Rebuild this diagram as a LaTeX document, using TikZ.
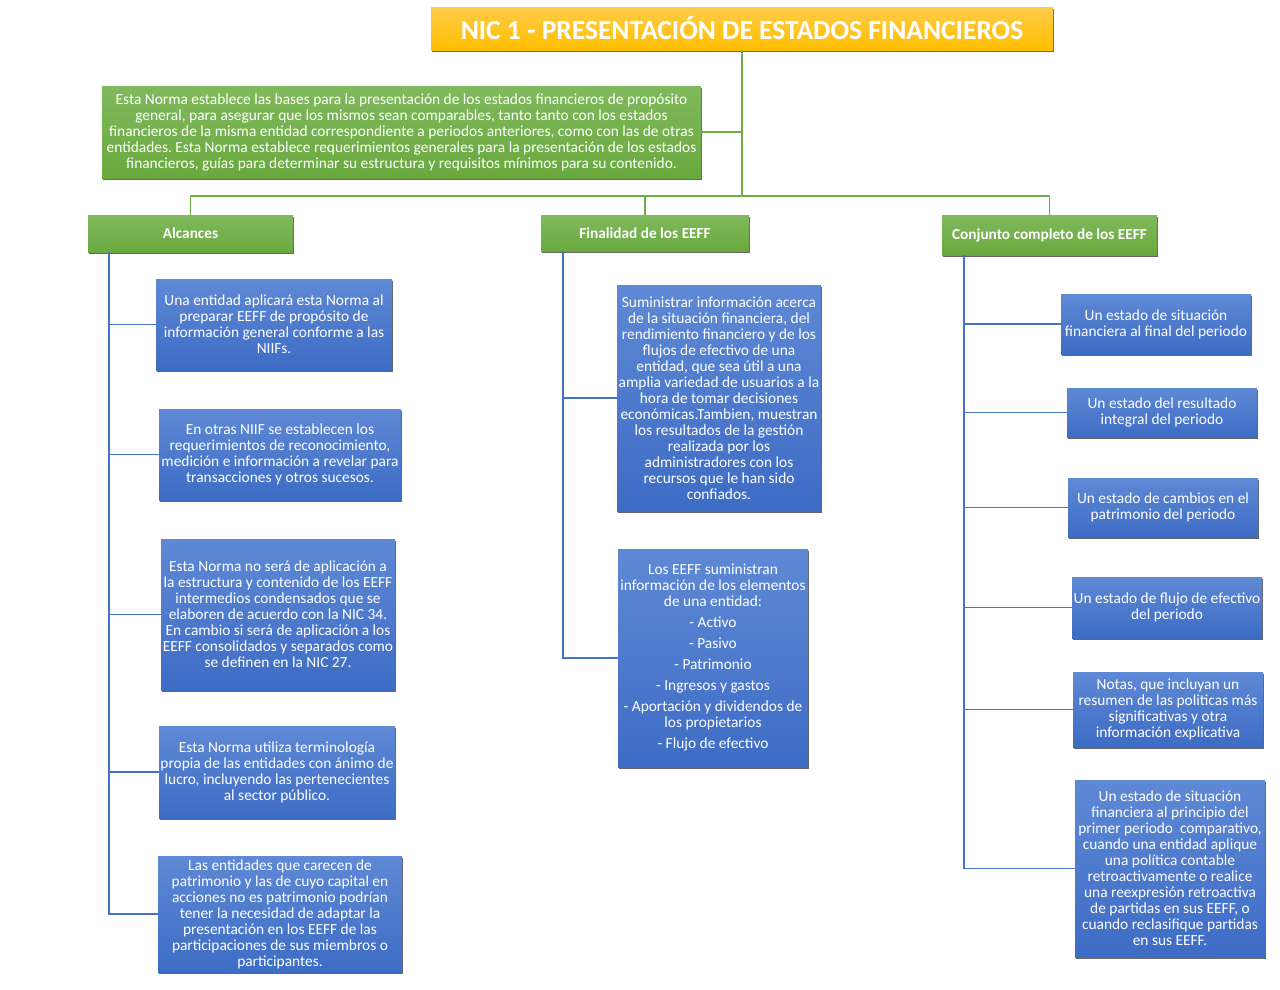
\documentclass[tikz,border=0pt]{standalone}
\usepackage{fontspec}
\setmainfont{Carlito}
\usetikzlibrary{positioning, shadows}
\definecolor{niclight}{HTML}{FFCB4A}
\definecolor{nicyellow}{HTML}{FFBF00}
\definecolor{greentop}{HTML}{80B95D}
\definecolor{greenbot}{HTML}{6AA93F}
\definecolor{bluetop}{HTML}{5F89D5}
\definecolor{bluebot}{HTML}{3D6CC5}
\definecolor{lineblue}{HTML}{4472C4}
\definecolor{linegreen}{HTML}{70AD47}
\frenchspacing

\begin{document}
\begin{tikzpicture}[
    x = 1pt, y = -1pt,
    base/.style     = {rectangle, text=white, align=center, inner sep=1pt,
                       drop shadow={shadow xshift=0.6pt, shadow yshift=-2.2pt,
                                    fill=black!70, opacity=0.85}},
    titlebox/.style = {base, top color=niclight, bottom color=nicyellow,
                       font=\fontsize{27.5}{30}\selectfont\bfseries},
    greenbox/.style = {base, top color=greentop, bottom color=greenbot,
                       font=\fontsize{15.4}{16}\selectfont},
    headbox/.style  = {greenbox, font=\fontsize{15.3}{16}\selectfont\bfseries},
    bluebox/.style  = {base, top color=bluetop, bottom color=bluebot,
                       font=\fontsize{15.4}{16}\selectfont},
    gline/.style    = {draw=linegreen, line width=1.8pt},
    bline/.style    = {draw=lineblue, line width=1.6pt}
  ]
  \useasboundingbox (0,0) rectangle (1280,989);

  \node[titlebox, minimum width=622, minimum height=43] (title) at (742,28.5)
    {NIC 1 - PRESENTACIÓN DE ESTADOS FINANCIEROS};
  \node[greenbox, minimum width=599, minimum height=92] (intro) at (401.5,132)
    {Esta Norma establece las bases para la presentación de los estados financieros de propósito\\
     general, para asegurar que los mismos sean comparables, tanto tanto con los estados\\
     financieros de la misma entidad correspondiente a periodos anteriores, como con las de otras\\
     entidades. Esta Norma establece requerimientos generales para la presentación de los estados\\
     financieros, guías para determinar su estructura y requisitos mínimos para su contenido.};

  \node[headbox, minimum width=205, minimum height=37] (alc) at (190.5,233.5) {Alcances};
  \node[headbox, minimum width=208, minimum height=36] (fin) at (645,233) {Finalidad de los EEFF};
  \node[headbox, minimum width=215, minimum height=40] (con) at (1049.5,235) {Conjunto completo de los EEFF};

  \node[bluebox, minimum width=236, minimum height=91] (alc1) at (274,324.5)
    {Una entidad aplicará esta Norma al\\ preparar EEFF de propósito de\\
     información general conforme a las\\ NIIFs.};
  \node[bluebox, minimum width=242, minimum height=91] (alc2) at (280,454.5)
    {En otras NIIF se establecen los\\ requerimientos de reconocimiento,\\
     medición e información a revelar para\\ transacciones y otros sucesos.};
  \node[bluebox, minimum width=234, minimum height=151] (alc3) at (278,614.5)
    {Esta Norma no será de aplicación a\\ la estructura y contenido de los EEFF\\
     intermedios condensados que se\\ elaboren de acuerdo con la NIC 34.\\
     En cambio si será de aplicación a los\\ EEFF consolidados y separados como\\
     se definen en la NIC 27.};
  \node[bluebox, minimum width=236, minimum height=92] (alc4) at (277,772)
    {Esta Norma utiliza terminología\\ propia de las entidades con ánimo de\\
     lucro, incluyendo las pertenecientes\\ al sector público.};
  \node[bluebox, minimum width=244, minimum height=116] (alc5) at (280,914)
    {Las entidades que carecen de\\ patrimonio y las de cuyo capital en\\
     acciones no es patrimonio podrían\\ tener la necesidad de adaptar la\\
     presentación en los EEFF de las\\ participaciones de sus miembros o\\
     participantes.};

  \node[bluebox, minimum width=204, minimum height=226] (fin1) at (719,398)
    {Suministrar información acerca\\ de la situación financiera, del\\
     rendimiento financiero y de los\\ flujos de efectivo de una\\
     entidad, que sea útil a una\\ amplia variedad de usuarios a la\\
     hora de tomar decisiones\\ económicas.Tambien, muestran\\
     los resultados de la gestión\\ realizada por los\\
     administradores con los\\ recursos que le han sido\\ confiados.};
  \node[bluebox, minimum width=190, minimum height=218] (fin2) at (713,658)
    {Los EEFF suministran\\ información de los elementos\\ de una entidad:\\[5pt]
     - Activo\\[5pt] - Pasivo\\[5pt] - Patrimonio\\[5pt] - Ingresos y gastos\\[5pt]
     - Aportación y dividendos de\\ los propietarios\\[5pt] - Flujo de efectivo};

  \node[bluebox, minimum width=190, minimum height=60] (con1) at (1156,324)
    {Un estado de situación\\ financiera al final del periodo};
  \node[bluebox, minimum width=190, minimum height=49] (con2) at (1162,412.5)
    {Un estado del resultado\\ integral del periodo};
  \node[bluebox, minimum width=190, minimum height=59] (con3) at (1163,507.5)
    {Un estado de cambios en el\\ patrimonio del periodo};
  \node[bluebox, minimum width=190, minimum height=61] (con4) at (1167,607.5)
    {Un estado de flujo de efectivo\\ del periodo};
  \node[bluebox, minimum width=190, minimum height=75] (con5) at (1168,709.5)
    {Notas, que incluyan un\\ resumen de las politicas más\\
     significativas y otra\\ información explicativa};
  \node[bluebox, minimum width=190, minimum height=177] (con6) at (1170,868.5)
    {Un estado de situación\\ financiera al principio del\\
     primer periodo\ \ comparativo,\\ cuando una entidad aplique\\
     una política contable\\ retroactivamente o realice\\
     una reexpresión retroactiva\\ de partidas en sus EEFF, o\\
     cuando reclasifique partidas\\ en sus EEFF.};

  \coordinate (hub) at (title.south |- 0,196);
  \coordinate (alcT) at ([xshift=21pt]alc.south west);
  \coordinate (finT) at ([xshift=22pt]fin.south west);
  \coordinate (conT) at ([xshift=22pt]con.south west);

  \draw[gline] (title.south) -- (hub);
  \draw[gline] (title.south |- intro.east) -- (intro.east);
  \draw[gline] (hub) -| (alc.north);
  \draw[gline] (hub) -| (fin.north);
  \draw[gline] (hub) -| (con.north);

  \foreach \b in {alc1, alc2, alc3, alc4, alc5}
    \draw[bline] (alcT) |- (\b.west);
  \foreach \b in {fin1, fin2}
    \draw[bline] (finT) |- (\b.west);
  \foreach \b in {con1, con2, con3, con4, con5, con6}
    \draw[bline] (conT) |- (\b.west);
\end{tikzpicture}
\end{document}
